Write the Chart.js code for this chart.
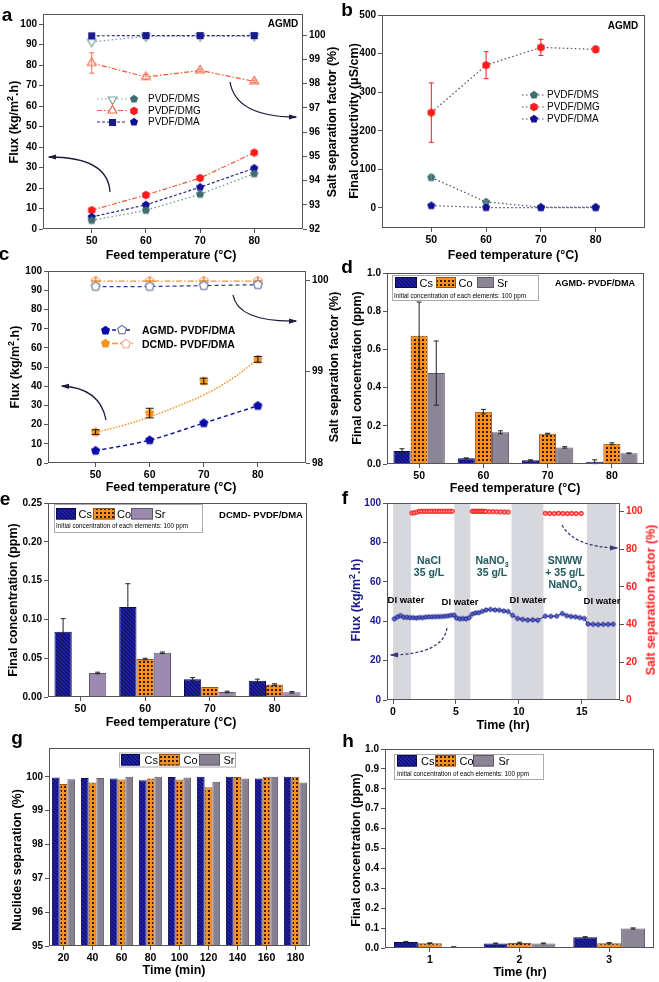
<!DOCTYPE html>
<html>
<head>
<meta charset="utf-8">
<script src="https://cdn.jsdelivr.net/npm/chart.js@4.4.1/dist/chart.umd.min.js"></script>
<style>
  body { margin:0; width:659px; height:982px; position:relative; overflow:hidden; background:#fff;
         font-family:'Liberation Sans', Arial, sans-serif; }
  .t { position:absolute; white-space:nowrap; line-height:1; color:#000; }
</style>
</head>
<body>
<script>
// ---------- data ----------
// a: AGMD flux & salt separation vs feed temperature
const tempA = [50, 60, 70, 80];
const fluxDMS = [4.2, 9.1, 17.0, 27.0];
const fluxDMG = [9.2, 16.6, 24.9, 37.3];
const fluxDMA = [5.9, 11.8, 20.4, 29.7];
const sepDMS = [99.72, 99.95, 99.96, 99.96];
const sepDMG = [98.85, 98.27, 98.54, 98.09];
const sepDMGErr = [0.42, 0.1, 0.05, 0.05];
const sepDMA = [99.97, 99.98, 99.98, 99.98];
// b: final conductivity
const condDMS = [79, 15.5, 2, 2];
const condDMSErr = [8, 3, 0, 0];
const condDMG = [247, 370, 416, 411];
const condDMGErr = [77, 35, 21, 8];
const condDMA = [6, 1, 1, 1];
// c: AGMD vs DCMD
const fluxAG = [6.4, 11.9, 20.8, 29.8];
const fluxDC = [16.1, 26.0, 42.7, 54.0];
const fluxDCErr = [1.2, 2.5, 1.5, 1.5];
const fitT = [50, 55, 60, 65, 70, 75, 80];
const fitDC = [16.0, 19.5, 24.0, 29.4, 35.5, 43.5, 54.0];
const sepAG = [99.93, 99.93, 99.94, 99.95];
const sepDC = [99.99, 99.99, 99.99, 99.99];
// d, e: final concentration vs feed temperature
const tempCats = ['50', '60', '70', '80'];
const dCs = [0.068, 0.030, 0.019, 0.012];
const dCsErr = [0.012, 0.002, 0.003, 0.010];
const dCo = [0.672, 0.274, 0.159, 0.106];
const dCoErr = [0.176, 0.012, 0.002, 0.005];
const dSr = [0.476, 0.166, 0.087, 0.056];
const dSrErr = [0.168, 0.008, 0.004, 0.002];
const eCs = [0.084, 0.116, 0.023, 0.021];
const eCsErr = [0.017, 0.030, 0.002, 0.002];
const eCo = [0, 0.049, 0.013, 0.016];
const eCoErr = [0, 0.001, 0, 0.001];
const eSr = [0.031, 0.057, 0.0065, 0.006];
const eSrErr = [0.001, 0.001, 0.001, 0.001];
// f: long run
const fluxT = [0.1,0.35,0.6,0.85,1.1,1.35, 1.6,1.85,2.1,2.35,2.6,2.85,3.1,3.35,3.6,3.85,4.1,4.35,4.6,
  4.85,5.05,5.3,5.55,5.8,6.05, 6.3,6.55,6.8,7.1,7.4,7.75,8.1,8.45,8.8,9.15,
  9.5,9.9,10.3,10.7,11.1,11.5, 12.1,12.55,13.0,13.45,13.8,14.15,14.5,14.85,15.2,
  15.5,15.9,16.3,16.7,17.1,17.5];
const fluxV = [41.2,42.2,42.8,42.0,42.0,41.8, 41.8,41.6,41.9,41.8,42.1,42.2,42.2,42.3,42.3,42.4,42.5,42.7,43.0,
  43.1,41.6,41.2,41.4,41.2,41.8, 43.6,44.2,44.3,45.0,45.7,46.0,45.7,45.6,45.2,44.9,
  43.0,41.4,40.9,40.6,40.7,40.5, 42.6,42.5,42.6,43.9,42.8,42.4,42.2,41.8,41.4,
  38.6,38.4,38.3,38.4,38.4,38.5];
const sepNaClT = [1.5,1.7,1.9,2.1,2.3,2.5,2.7,2.9,3.1,3.3,3.5,3.7,3.9,4.1,4.3,4.5,4.7];
const sepNaClV = [99.1,99.2,99.6,100,100,100,100,100,100,100,100,100,100,100,100,100,100];
const sepNaNO3T = [6.3,6.45,6.6,6.75,6.9,7.05,7.2,7.35,7.65,7.95,8.25,8.55,8.85,9.15];
const sepNaNO3V = [100,100,100,100,100,100,100,99.9,99.8,99.8,99.7,99.7,99.6,99.6];
const sepSnwwT = [12.1,12.45,12.8,13.15,13.5,13.85,14.2,14.55,14.95];
const sepSnwwV = [99.0,98.9,98.8,99.0,98.9,98.8,98.9,98.8,98.9];
const diStart = [0, 4.87, 9.42, 15.42];
const diEnd = [1.42, 6.14, 11.96, 17.72];
// g: nuclides separation vs time
const timeMin = ['20','40','60','80','100','120','140','160','180'];
const gCs = [99.98, 99.96, 99.95, 99.90, 99.99, 100.0, 100.0, 99.95, 100.0];
const gCo = [99.79, 99.83, 99.92, 99.95, 99.92, 99.69, 99.99, 100.0, 100.0];
const gSr = [99.93, 99.96, 100.0, 100.0, 99.98, 99.85, 99.95, 100.0, 99.83];
// h: final concentration vs time
const timeHr = ['1', '2', '3'];
const hCs = [0.030, 0.023, 0.054];
const hCsErr = [0.003, 0.002, 0.003];
const hCo = [0.024, 0.025, 0.024];
const hCoErr = [0.002, 0.004, 0.003];
const hSr = [0.005, 0.023, 0.098];
const hSrErr = [0.001, 0.002, 0.003];
// tick labels
const tTemp = [50, 60, 70, 80];
const tFlux100 = [0,10,20,30,40,50,60,70,80,90,100];
const tSepA = [92,93,94,95,96,97,98,99,100];
const tCond = [0,100,200,300,400,500];
const tSepC = [98, 99, 100];
const tConcD = [0,0.2,0.4,0.6,0.8,1.0];
const tConcE = [0,0.05,0.10,0.15,0.20,0.25];
const tTimeF = [0, 5, 10, 15];
const tFluxF = [0,20,40,60,80,100];
const tNucl = [95,96,97,98,99,100];
const tConcH = [0,0.1,0.2,0.3,0.4,0.5,0.6,0.7,0.8,0.9,1.0];

// ---------- helpers ----------
const FONT = "'Liberation Sans', Arial, sans-serif";
const TFY = {family: FONT, size: 10, weight: 'bold'};
const TFX = {family: FONT, size: 10.5, weight: 'bold'};

function shape(n, r, fill, stroke, lw, rot, cross){
  lw = lw || 0;
  const s = Math.ceil(r*2 + lw + 3);
  const c = document.createElement('canvas'); c.width = c.height = s;
  const g = c.getContext('2d');
  g.beginPath();
  for (let k = 0; k < n; k++) {
    const a = (rot === undefined ? -90 : rot) * Math.PI/180 + k*2*Math.PI/n;
    const px = s/2 + r*Math.cos(a), py = s/2 + r*Math.sin(a);
    k ? g.lineTo(px, py) : g.moveTo(px, py);
  }
  g.closePath();
  if (fill) { g.fillStyle = fill; g.fill(); }
  if (stroke) { g.strokeStyle = stroke; g.lineWidth = lw; g.stroke(); }
  if (cross) {
    g.strokeStyle = cross; g.lineWidth = 1.6; g.beginPath();
    g.moveTo(s/2, s/2 - r); g.lineTo(s/2, s/2 + r); g.moveTo(s/2 - r, s/2); g.lineTo(s/2 + r, s/2); g.stroke();
  }
  return c;
}
const M = {
  pentTeal: shape(5, 4.3, '#3f6e6e'),
  pentRed: shape(6, 4.3, '#ff1a1a'),
  pentNavy: shape(5, 4.3, '#10109a'),
  triDown: shape(3, 5, '#fff', '#7aa2a2', 1.2, 90),
  triUp: shape(3, 5, '#fff', '#f06848', 1.2, -90),
  sqNavy: shape(4, 5, '#1a1a8c', null, 0, -45),
  pentNavyC: shape(5, 4.8, '#0c0ca8'),
  pentOrange: shape(5, 4.8, '#f7941d'),
  pentOpenNavy: shape(5, 4.6, '#fff', '#5a6a9a', 1.1),
  pentOpenPink: shape(5, 4.6, '#fff', '#f2a79a', 1.1, -90, '#f08a20'),
  fCirc: shape(16, 2.0, '#5a6ad0', '#10107a', 1),
  rCirc: shape(16, 1.9, '#ffd8d8', '#ff1010', 1.3)
};

function tile(kind){
  const t = document.createElement('canvas'); t.width = t.height = 4;
  const x = t.getContext('2d');
  if (kind === 'cs') {
    x.fillStyle = '#1e1ea2'; x.fillRect(0,0,4,4);
    x.fillStyle = '#0a0a58'; for (let i = 0; i < 4; i++) x.fillRect(i, i, 1, 1);
  } else {
    x.fillStyle = '#f7901e'; x.fillRect(0,0,4,4);
    x.fillStyle = '#3a1a00'; x.fillRect(0,0,2,2);
  }
  return t;
}
function pat(ctx, kind){ return ctx.createPattern(tile(kind), 'repeat'); }

const errPlugin = {
  id: 'err',
  afterDatasetsDraw(chart){
    const ctx = chart.ctx;
    chart.data.datasets.forEach((ds, i) => {
      if (!ds.err) return;
      const meta = chart.getDatasetMeta(i);
      const ys = chart.scales[meta.yAxisID];
      meta.data.forEach((el, j) => {
        const e = ds.err[j]; if (!e) return;
        const raw = ds.data[j]; const v = (typeof raw === 'object') ? raw.y : raw;
        const x = el.x, y1 = ys.getPixelForValue(v + e), y2 = ys.getPixelForValue(v - e);
        const w = ds.capW || 2.5;
        ctx.save(); ctx.strokeStyle = ds.errColor || '#333'; ctx.lineWidth = 1;
        ctx.beginPath();
        ctx.moveTo(x, y1); ctx.lineTo(x, y2);
        ctx.moveTo(x-w, y1); ctx.lineTo(x+w, y1);
        ctx.moveTo(x-w, y2); ctx.lineTo(x+w, y2);
        ctx.stroke(); ctx.restore();
      });
    });
  }
};
const framePlugin = {
  id: 'frame',
  afterDraw(ch){
    const a = ch.chartArea, x = ch.ctx;
    x.save(); x.strokeStyle = '#555'; x.lineWidth = 1;
    x.strokeRect(Math.round(a.left)+0.5, Math.round(a.top)+0.5, Math.round(a.right-a.left)-1, Math.round(a.bottom-a.top)-1);
    x.restore();
  }
};
const bandPlugin = {
  id: 'bands',
  beforeDatasetsDraw(ch){
    const a = ch.chartArea, x = ch.ctx, xs = ch.scales.x;
    x.save(); x.fillStyle = '#d7d7de';
    diStart.forEach((s, i) => {
      const p0 = xs.getPixelForValue(s), p1 = xs.getPixelForValue(diEnd[i]);
      x.fillRect(p0, a.top, p1 - p0, a.bottom - a.top);
    });
    x.restore();
  },
  afterDraw(ch){
    // red right axis line like the original
    const a = ch.chartArea, x = ch.ctx;
    x.save(); x.strokeStyle = '#ff3030'; x.lineWidth = 1;
    x.beginPath(); x.moveTo(Math.round(a.right) - 0.5, a.top); x.lineTo(Math.round(a.right) - 0.5, a.bottom); x.stroke();
    x.restore();
  }
};

function axis(pos, min, max, ticks, fmt, color){
  return {
    type: 'linear', position: pos, min: min, max: max,
    afterBuildTicks: s => { s.ticks = ticks.map(v => ({value: v})); },
    grid: {drawOnChartArea: false, tickLength: 4, color: '#555'},
    border: {display: false},
    ticks: {font: pos === 'bottom' ? TFX : TFY, color: color || '#000', padding: 2,
      callback: v => fmt ? fmt(v) : String(v)}
  };
}
function catAxis(){
  return {
    type: 'category', position: 'bottom',
    grid: {drawOnChartArea: false, tickLength: 4, color: '#555', offset: false},
    border: {display: false},
    ticks: {font: TFX, color: '#000', padding: 2}
  };
}

function mk(plot, m, cfg, hasRight){
  const [l, t, r, b] = plot, [ml, mt, mr, mb] = m;
  const W = r - l + ml + mr, H = b - t + mt + mb;
  const c = document.createElement('canvas'); c.width = W; c.height = H;
  c.style.cssText = `position:absolute;left:${l-ml}px;top:${t-mt}px;width:${W}px;height:${H}px`;
  document.body.appendChild(c);
  const o = cfg.options;
  o.responsive = false; o.animation = false; o.devicePixelRatio = 1;
  o.layout = {padding: {top: mt, left: 0, right: hasRight ? 0 : mr, bottom: 0}};
  o.plugins = {legend: {display: false}, tooltip: {enabled: false}};
  for (const k in o.scales) {
    const s = o.scales[k];
    s.afterFit = s.position === 'right' ? (x => { x.width = mr; })
      : s.position === 'bottom' ? (x => { x.height = mb; }) : (x => { x.width = ml; });
  }
  cfg.plugins = (cfg.plugins || []).concat([errPlugin, framePlugin]);
  return new Chart(c, cfg);
}

function ser(xs, ys, axisId, o){
  return {
    type: 'line', data: xs.map((x, i) => ({x: x, y: ys[i]})), yAxisID: axisId,
    showLine: o.line !== false, borderColor: o.color || '#333', borderWidth: o.lw || 1.2,
    borderDash: o.dash || [], tension: o.tension || 0, fill: false,
    pointStyle: o.pt || false, pointRadius: o.pt ? 4 : 0,
    err: o.err, errColor: o.errColor, capW: o.capW
  };
}
function bars(vals, err, kind, sr){
  const d = {data: vals, err: err, errColor: '#222', borderWidth: 1,
    categoryPercentage: 0.8, barPercentage: 1, borderSkipped: 'start'};
  if (kind === 'sr') { d.backgroundColor = sr; d.borderColor = '#5e5868'; }
  else {
    d.backgroundColor = c => pat(c.chart.ctx, kind);
    d.borderColor = kind === 'cs' ? '#0a0a50' : '#9a5418';
  }
  return d;
}

// ---------- panel a ----------
mk([43, 14, 303, 229], [45, 10, 45, 24], {
  type: 'scatter',
  data: {datasets: [
    ser(tempA, sepDMA, 'yR', {color: '#2a2a80', dash: [3, 2], pt: M.sqNavy}),
    ser(tempA, sepDMS, 'yR', {color: '#6f9a9a', dash: [1.5, 2.5], pt: M.triDown}),
    ser(tempA, sepDMG, 'yR', {color: '#f05a30', dash: [5, 2, 1.5, 2], pt: M.triUp, err: sepDMGErr, errColor: '#f07050'}),
    ser(tempA, fluxDMS, 'y', {color: '#5f9090', dash: [1.5, 2.5], pt: M.pentTeal}),
    ser(tempA, fluxDMA, 'y', {color: '#2a2a80', dash: [3, 2], pt: M.pentNavy}),
    ser(tempA, fluxDMG, 'y', {color: '#f05a30', dash: [5, 2, 1.5, 2], pt: M.pentRed})
  ]},
  options: {scales: {
    x: axis('bottom', 41, 89, tTemp),
    y: axis('left', 0, 105, tFlux100),
    yR: axis('right', 92, 100.87, tSepA)
  }}
}, true);

// ---------- panel b ----------
mk([382, 15, 645, 228], [45, 10, 6, 24], {
  type: 'scatter',
  data: {datasets: [
    ser(tempA, condDMA, 'y', {color: '#4a4a6a', dash: [1.5, 2.5], pt: M.pentNavy}),
    ser(tempA, condDMS, 'y', {color: '#4a4a6a', dash: [1.5, 2.5], pt: M.pentTeal, err: condDMSErr, errColor: '#5f9090'}),
    ser(tempA, condDMG, 'y', {color: '#4a4a6a', dash: [1.5, 2.5], pt: M.pentRed, err: condDMGErr, errColor: '#f02020'})
  ]},
  options: {scales: {
    x: axis('bottom', 41, 89, tTemp),
    y: axis('left', -52, 500, tCond)
  }}
}, false);

// ---------- panel c ----------
mk([48, 271, 306, 463], [45, 10, 45, 24], {
  type: 'scatter',
  data: {datasets: [
    ser(tempA, sepAG, 'yR', {color: '#2a3a8a', dash: [4, 3], pt: M.pentOpenNavy}),
    ser(tempA, sepDC, 'yR', {color: '#f7941d', dash: [6, 2, 1.5, 2], pt: M.pentOpenPink}),
    ser(fitT, fitDC, 'y', {color: '#f7941d', dash: [1.5, 1.5], lw: 1.5, tension: 0.4}),
    ser(tempA, fluxAG, 'y', {color: '#1a1a90', dash: [4, 3], lw: 1.5, tension: 0.3, pt: M.pentNavyC}),
    ser(tempA, fluxDC, 'y', {line: false, pt: M.pentOrange, err: fluxDCErr, errColor: '#111', capW: 4})
  ]},
  options: {scales: {
    x: axis('bottom', 41.2, 88.9, tTemp),
    y: axis('left', 0, 100, tFlux100),
    yR: axis('right', 98, 100.1, tSepC)
  }}
}, true);

// ---------- panel d ----------
mk([387, 273, 644, 464], [45, 10, 6, 24], {
  type: 'bar',
  data: {labels: tempCats, datasets: [
    bars(dCs, dCsErr, 'cs'), bars(dCo, dCoErr, 'co'), bars(dSr, dSrErr, 'sr', '#8b8596')
  ]},
  options: {scales: {x: catAxis(), y: axis('left', 0, 1.0, tConcD, v => v.toFixed(1))}}
}, false);

// ---------- panel e ----------
mk([48, 503, 307, 697], [45, 10, 6, 24], {
  type: 'bar',
  data: {labels: tempCats, datasets: [
    bars(eCs, eCsErr, 'cs'), bars(eCo, eCoErr, 'co'), bars(eSr, eSrErr, 'sr', '#9d8ab2')
  ]},
  options: {scales: {x: catAxis(), y: axis('left', 0, 0.25, tConcE, v => v.toFixed(2))}}
}, false);

// ---------- panel f ----------
mk([387, 503, 620, 700], [45, 10, 30, 24], {
  type: 'scatter',
  data: {datasets: [
    ser(sepNaClT, sepNaClV, 'yR', {color: '#ff3030', lw: 1, pt: M.rCirc}),
    ser(sepNaNO3T, sepNaNO3V, 'yR', {color: '#ff3030', lw: 1, pt: M.rCirc}),
    ser(sepSnwwT, sepSnwwV, 'yR', {color: '#ff3030', lw: 1, pt: M.rCirc}),
    ser(fluxT, fluxV, 'y', {color: '#1a1a7a', lw: 1, pt: M.fCirc})
  ]},
  options: {scales: {
    x: axis('bottom', -0.48, 18.04, tTimeF),
    y: axis('left', 0, 100, tFluxF, null, '#1a1a8c'),
    yR: axis('right', 0, 104.4, tFluxF, null, '#ff2020')
  }},
  plugins: [bandPlugin]
}, true);

// ---------- panel g ----------
mk([49, 748, 310, 946], [45, 10, 6, 24], {
  type: 'bar',
  data: {labels: timeMin, datasets: [
    bars(gCs, null, 'cs'), bars(gCo, null, 'co'), bars(gSr, null, 'sr', '#868090')
  ]},
  options: {scales: {x: catAxis(), y: axis('left', 95, 100.85, tNucl)}}
}, false);

// ---------- panel h ----------
mk([385, 749, 654, 948], [45, 10, 4, 24], {
  type: 'bar',
  data: {labels: timeHr, datasets: [
    bars(hCs, hCsErr, 'cs'), bars(hCo, hCoErr, 'co'), bars(hSr, hSrErr, 'sr', '#8b8596')
  ]},
  options: {scales: {x: catAxis(), y: axis('left', 0, 1.0, tConcH, v => v.toFixed(1))}}
}, false);

// ---------- overlay: legend symbols, arrows ----------
const ov = document.createElement('canvas'); ov.width = 659; ov.height = 982;
ov.style.cssText = 'position:absolute;left:0;top:0;width:659px;height:982px;pointer-events:none';
document.body.appendChild(ov);
const g = ov.getContext('2d');

function arrow(x0, y0, cx, cy, x1, y1, col, dash){
  g.save(); g.strokeStyle = col; g.fillStyle = col; g.lineWidth = 1.3; g.setLineDash(dash || []);
  g.beginPath(); g.moveTo(x0, y0); g.quadraticCurveTo(cx, cy, x1, y1); g.stroke();
  g.setLineDash([]);
  const a = Math.atan2(y1 - cy, x1 - cx), L = 7, W = 2.6;
  g.beginPath(); g.moveTo(x1 + 1.5*Math.cos(a), y1 + 1.5*Math.sin(a));
  g.lineTo(x1 - L*Math.cos(a) + W*Math.sin(a), y1 - L*Math.sin(a) - W*Math.cos(a));
  g.lineTo(x1 - L*Math.cos(a) - W*Math.sin(a), y1 - L*Math.sin(a) + W*Math.cos(a));
  g.closePath(); g.fill(); g.restore();
}
function lseg(x0, x1, y, col, dash, lw){
  g.save(); g.strokeStyle = col; g.lineWidth = lw || 1.2; g.setLineDash(dash);
  g.beginPath(); g.moveTo(x0, y); g.lineTo(x1, y); g.stroke(); g.restore();
}
function sym(img, x, y){ g.drawImage(img, Math.round(x - img.width/2), Math.round(y - img.height/2)); }

// a legend
lseg(97, 127, 99, '#6f9a9a', [1.5, 2.5]); sym(M.triDown, 112, 99); sym(M.pentTeal, 134, 99);
lseg(97, 127, 110.5, '#f05a30', [5, 2, 1.5, 2]); sym(M.triUp, 112, 110.5); sym(M.pentRed, 134, 110.5);
lseg(97, 127, 122, '#2a2a80', [3, 2]); sym(M.sqNavy, 112, 122); sym(M.pentNavy, 134, 122);
// b legend
[[95, M.pentTeal], [107, M.pentRed], [119, M.pentNavy]].forEach(([y, s]) => {
  lseg(522, 545, y, '#4a4a6a', [1.5, 2.5]); sym(s, 533.5, y);
});
// c legend
sym(M.pentNavyC, 105, 330); lseg(112, 133, 330, '#1a1a90', [4, 3], 1.5); sym(M.pentOpenNavy, 122, 330);
sym(M.pentOrange, 105, 343.5); lseg(112, 134, 343.5, '#f7941d', [6, 2, 1.5, 2], 1.5); sym(shape(5, 4.6, '#fff', '#f2a79a', 1.1), 126, 343.5);

// bar legends
function barLegend(box, sy, sw, srCol){
  g.save();
  g.fillStyle = '#fff'; g.fillRect(box[0], box[1], box[2], box[3]);
  g.strokeStyle = '#aaa'; g.lineWidth = 1; g.strokeRect(box[0] + 0.5, box[1] + 0.5, box[2], box[3]);
  const fills = [pat(g, 'cs'), pat(g, 'co'), srCol];
  const edges = ['#0a0a50', '#9a5418', '#5e5868'];
  sw.forEach((s, i) => {
    g.fillStyle = fills[i]; g.fillRect(s[0], sy[0], s[1] - s[0], sy[1] - sy[0]);
    g.strokeStyle = edges[i]; g.strokeRect(s[0] + 0.5, sy[0] + 0.5, s[1] - s[0] - 1, sy[1] - sy[0] - 1);
  });
  g.restore();
}
barLegend([392, 275, 146, 25], [277, 288], [[395, 417], [436, 456], [477, 494]], '#8b8596');
barLegend([54, 504, 148, 28], [508, 519.5], [[56, 76], [93, 115], [131, 153]], '#9d8ab2');
barLegend([119, 752.5, 116, 14], [754, 765.5], [[121, 140], [159, 180], [199, 220]], '#868090');
barLegend([394, 754, 149, 25], [755, 766.5], [[397, 417], [435, 456], [473, 494]], '#8b8596');

// arrows
arrow(110, 192, 108, 157, 49, 157, '#1c1c3c');
arrow(230, 82, 236, 117, 296, 117, '#1c1c3c');
arrow(106, 420, 100, 388, 62, 386, '#1c1c3c');
arrow(233, 295, 238, 322, 296, 321, '#1c1c3c');
arrow(447, 628, 443, 654, 391, 655, '#3a3a7a', [3, 2]);
arrow(562, 525, 574, 547, 617, 548, '#3a3a7a', [3, 2]);

// ---------- texts ----------
function T(html, x, y, css, anchor){
  const d = document.createElement('div'); d.className = 't'; d.innerHTML = html;
  d.style.left = x + 'px'; d.style.top = y + 'px';
  let tr = anchor === 'l' ? 'translate(0,-50%)' : 'translate(-50%,-50%)';
  if (anchor === 'r90') tr = 'translate(-50%,-50%) rotate(-90deg)';
  d.style.cssText += ';transform:' + tr + ';' + (css || '');
  document.body.appendChild(d);
}
const PL = 'font-weight:bold;font-size:19px;';
T('a', 7, 14, PL); T('b', 347, 9, PL); T('c', 4, 253, PL); T('d', 347, 266, PL);
T('e', 5, 498, PL); T('f', 345, 497, PL); T('g', 17, 737, PL); T('h', 348, 740, PL);

const AT = 'font-weight:bold;font-size:12.5px;';
const FLUX = 'Flux (kg/m<sup style="font-size:9px;vertical-align:5px;line-height:0">2</sup>.h)';
T(FLUX, 14, 122, AT, 'r90');
T('Salt separation factor (%)', 332, 122, AT, 'r90');
T('Final conductivity (&mu;S/cm)', 354, 121, AT, 'r90');
T('Feed temperature (&deg;C)', 171, 255, AT);
T('Feed temperature (&deg;C)', 513, 255, AT);
T(FLUX, 15, 367, AT, 'r90');
T('Salt separation factor (%)', 334, 367, AT, 'r90');
T('Feed temperature (&deg;C)', 171, 487, AT);
T('Final concentration (ppm)', 357, 368, AT, 'r90');
T('Feed temperature (&deg;C)', 515, 488, AT);
T('Final concentration (ppm)', 13, 600, AT, 'r90');
T('Feed temperature (&deg;C)', 171, 722, AT);
T(FLUX, 356, 600, AT + 'color:#1a1a8c;', 'r90');
T('Salt separation factor (%)', 651, 600, AT + 'color:#ff2020;', 'r90');
T('Time (hr)', 503, 725, AT);
T('Nuclides separation (%)', 17, 860, AT, 'r90');
T('Time (min)', 174, 970, AT);
T('Final concentration (ppm)', 356, 850, AT, 'r90');
T('Time (hr)', 520, 972, AT);

const BT = 'font-weight:bold;font-size:10px;';
T('AGMD', 283, 24, BT); T('AGMD', 623, 26, BT);
T('AGMD- PVDF/DMA', 595, 283, 'font-weight:bold;font-size:9px;');
T('DCMD- PVDF/DMA', 261, 515, 'font-weight:bold;font-size:9.5px;');

const LT = 'font-size:10px;';
T('PVDF/DMS', 148, 99, LT, 'l'); T('PVDF/DMG', 148, 110.5, LT, 'l'); T('PVDF/DMA', 148, 122, LT, 'l');
T('PVDF/DMS', 547, 95, LT, 'l'); T('PVDF/DMG', 547, 107, LT, 'l'); T('PVDF/DMA', 547, 119, LT, 'l');
T('AGMD- PVDF/DMA', 142, 330, 'font-weight:bold;font-size:10.5px;', 'l');
T('DCMD- PVDF/DMA', 142, 343.5, 'font-weight:bold;font-size:10.5px;', 'l');

const BL = 'font-size:11px;';
const NOTE = 'font-size:6.3px;';
[[419.5, 458.5, 497, 282.5], [78.5, 117, 154.5, 514], [144.5, 183.5, 223.5, 759.5], [421, 459.5, 498.5, 761]].forEach(r => {
  T('Cs', r[0], r[3], BL, 'l'); T('Co', r[1], r[3], BL, 'l'); T('Sr', r[2], r[3], BL, 'l');
});
T('Initial concentration of each elements: 100 ppm', 394, 295.5, NOTE, 'l');
T('Initial concentration of each elements: 100 ppm', 56, 526, NOTE, 'l');
T('Initial concentration of each elements: 100 ppm', 397, 774, NOTE, 'l');

const GT = 'font-weight:bold;font-size:10.5px;color:#2b5a5a;text-shadow:0 0 2px #e6f6ff,0 0 3px #e6f6ff;text-align:center;line-height:1.15;';
T('NaCl<br>35 g/L', 429, 566, GT);
T('NaNO<sub style="font-size:7px;line-height:0">3</sub><br>35 g/L', 492, 566, GT);
T('SNWW<br>+ 35 g/L<br>NaNO<sub style="font-size:7px;line-height:0">3</sub>', 565, 572, GT);
const DW = 'font-weight:bold;font-size:9.5px;';
T('DI water', 406, 600, DW); T('DI water', 460, 602, DW); T('DI water', 528, 600, DW); T('DI water', 602, 601, DW);
</script>
</body>
</html>
